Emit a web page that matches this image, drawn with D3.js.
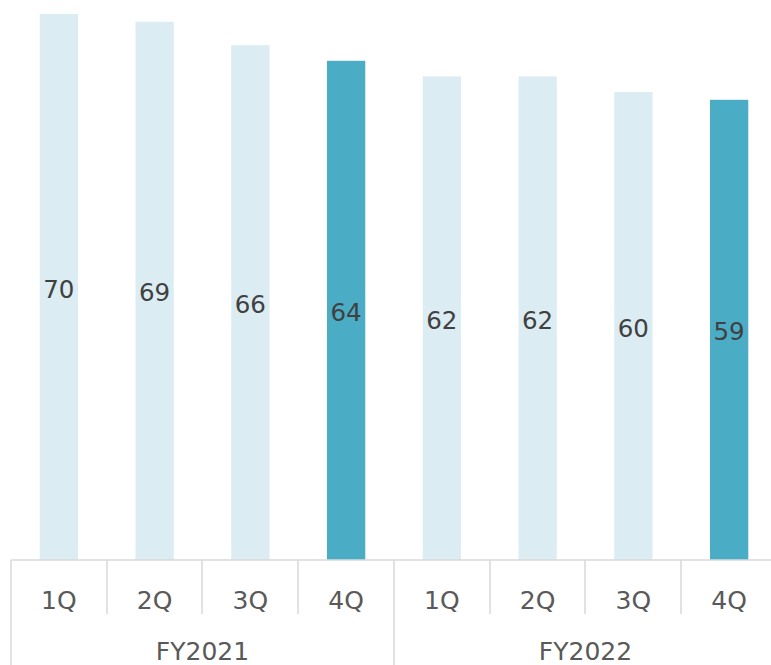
<!DOCTYPE html>
<html>
<head>
<meta charset="utf-8">
<script src="https://cdn.jsdelivr.net/npm/d3@7/dist/d3.min.js"></script>
<style>
  html, body { margin: 0; padding: 0; background: #fff; }
  svg { display: block; }
</style>
</head>
<body>
<svg id="chart" width="771" height="665"></svg>
<script>
// Quarterly values, two fiscal years
const quarters = ["1Q", "2Q", "3Q", "4Q", "1Q", "2Q", "3Q", "4Q"];
const years = ["FY2021", "FY2022"];
const values = [70, 69, 66, 64, 62, 62, 60, 59];
const highlight = [false, false, false, true, false, false, false, true];

const svg = d3.select("#chart");
const W = 771, H = 665;
const plotLeft = 11, plotRight = 777, plotBase = 560, plotTop = 14;
const font = "'DejaVu Sans', Verdana, sans-serif";

const keys = values.map((_, i) => i);
const x = d3.scaleBand().domain(keys).range([plotLeft, plotRight]).paddingInner(0.6).paddingOuter(0.3);
const step = x.step();
const y = d3.scaleLinear().domain([0, 70]).range([plotBase, plotTop]);

// bars
svg.append("g").selectAll("rect").data(keys).join("rect")
  .attr("x", i => x(i))
  .attr("width", x.bandwidth())
  .attr("y", i => y(values[i]))
  .attr("height", i => plotBase - y(values[i]))
  .attr("fill", i => highlight[i] ? "#4bacc6" : "#dbecf3");

// value labels in the middle of each bar
svg.append("g").selectAll("text").data(keys).join("text")
  .attr("x", i => x(i) + x.bandwidth() / 2)
  .attr("y", i => (y(values[i]) + plotBase) / 2 + 2)
  .attr("text-anchor", "middle")
  .attr("dominant-baseline", "central")
  .attr("font-family", font)
  .attr("font-size", 24.5)
  .attr("fill", "#404040")
  .text(i => values[i]);

// category axis
const axis = svg.append("g").attr("stroke", "#d9d9d9").attr("stroke-width", 1.5);
axis.append("line").attr("x1", plotLeft).attr("x2", W).attr("y1", plotBase).attr("y2", plotBase);

const slotLeft = i => x(i) - (step - x.bandwidth()) / 2;
keys.forEach(i => {
  const xe = Math.round(slotLeft(i));
  const groupEdge = i % 4 === 0;
  axis.append("line").attr("x1", xe).attr("x2", xe).attr("y1", plotBase).attr("y2", groupEdge ? H : 614);
});
const xr = Math.round(slotLeft(7) + step);
axis.append("line").attr("x1", xr).attr("x2", xr).attr("y1", plotBase).attr("y2", H);

// quarter labels
svg.append("g").selectAll("text").data(keys).join("text")
  .attr("x", i => x(i) + x.bandwidth() / 2)
  .attr("y", 600)
  .attr("text-anchor", "middle")
  .attr("dominant-baseline", "central")
  .attr("font-family", font)
  .attr("font-size", 25)
  .attr("fill", "#595959")
  .text(i => quarters[i]);

// fiscal year labels
svg.append("g").selectAll("text").data(years).join("text")
  .attr("x", (d, j) => slotLeft(j * 4) + step * 2)
  .attr("y", 651)
  .attr("text-anchor", "middle")
  .attr("dominant-baseline", "central")
  .attr("font-family", font)
  .attr("font-size", 25)
  .attr("fill", "#595959")
  .text(d => d);
</script>
</body>
</html>
